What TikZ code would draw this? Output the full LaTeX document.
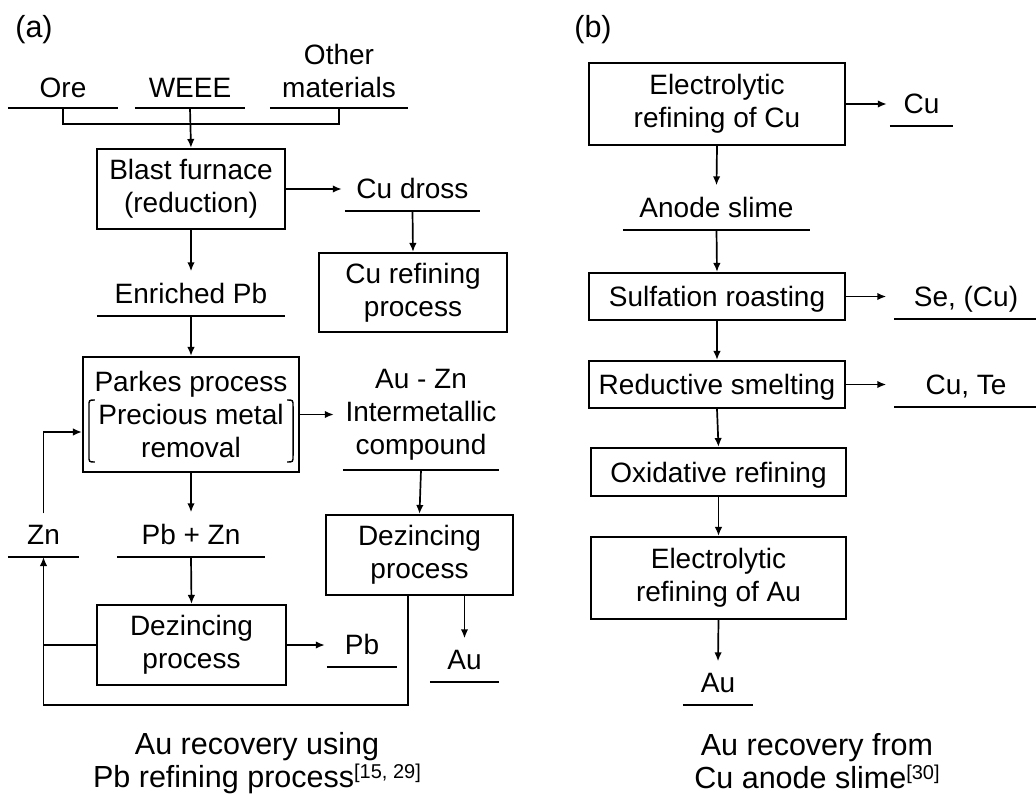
\documentclass[tikz,border=0pt]{standalone}
\usepackage{fontspec}
\setmainfont{Liberation Sans}
\usetikzlibrary{arrows.meta,calc}
\tikzset{
  every node/.style={font=\fontsize{28}{33}\selectfont},
  box/.style={draw, line width=2.1pt, align=center, inner sep=0pt},
  onebox/.style={box, text depth=0pt},
  ul/.style={anchor=south, inner xsep=0pt, inner ysep=12pt, text depth=0pt, align=center},
  uline/.style={line width=1.9pt},
  conn/.style={line width=1.7pt},
  arr/.style={line width=1.7pt, -{Latex[length=9pt,width=7.5pt]}},
  capt/.style={font=\fontsize{30.5}{33}\selectfont, align=center},
}
\begin{document}
\begin{tikzpicture}[x=1pt,y=-1pt]
\fill[white] (0,0) rectangle (1036,795);
\useasboundingbox (0,0) rectangle (1036,795);

% ---------------- (a) ----------------
\node[capt] (lbla) at (34,30) {(a)};
\node[ul, inner ysep=10pt, minimum width=110pt] (ore) at (63,108) {Ore};
\node[ul, inner ysep=10pt, minimum width=110pt] (weee) at (190,108) {WEEE};
\node[ul, inner ysep=10pt, minimum width=138pt] (oth) at (339,108) {Other\\materials};
\node[box, minimum width=188pt, minimum height=80pt] (blast) at (191,189) {Blast furnace\\(reduction)};
\node[ul, minimum width=135pt] (cud) at (412.5,211) {Cu dross};
\node[box, minimum width=188pt, minimum height=79pt] (curef) at (413,292.5) {Cu refining\\process};
\node[ul, minimum width=188pt] (enr) at (191,316) {Enriched Pb};
\node[box, minimum width=216pt, minimum height=115pt] (parkes) at (191,414.5) {Parkes process\\Precious metal\\removal};
\node[ul, inner ysep=15pt, minimum width=156pt] (auzn) at (421,470) {Au - Zn\\Intermetallic\\compound};
\node[ul, minimum width=71pt] (zn) at (43.5,557) {Zn};
\node[ul, minimum width=148pt] (pbzn) at (191,557) {Pb + Zn};
\node[box, minimum width=189pt, minimum height=80pt] (dez1) at (191.5,645) {Dezincing\\process};
\node[ul, minimum width=70pt] (pb) at (362,667) {Pb};
\node[box, minimum width=187pt, minimum height=80pt] (dez2) at (419.5,555) {Dezincing\\process};
\node[ul, minimum width=69pt] (au) at (464.5,682) {Au};
\coordinate (loopc) at (408,705);
\node[capt] (capa) at (257,763) {Au recovery using\\Pb refining process\raisebox{9pt}{\fontsize{20}{20}\selectfont[15, 29]}};

% underlines (a)
\foreach \n in {ore,weee,oth,cud,enr,auzn,zn,pbzn,pb,au}
  \draw[uline] (\n.south west) -- (\n.south east);

% brackets in Parkes box
\draw[conn, line width=1.4pt] ($(parkes.west)+(13,-14.5)$) .. controls ($(parkes.west)+(7,-14.5)$) .. ($(parkes.west)+(7,-8)$)
  -- ($(parkes.west)+(7,41)$) .. controls ($(parkes.west)+(7,47.5)$) .. ($(parkes.west)+(13,47.5)$);
\draw[conn, line width=1.4pt] ($(parkes.east)+(-13,-14.5)$) .. controls ($(parkes.east)+(-7,-14.5)$) .. ($(parkes.east)+(-7,-8)$)
  -- ($(parkes.east)+(-7,41)$) .. controls ($(parkes.east)+(-7,47.5)$) .. ($(parkes.east)+(-13,47.5)$);

% connectors (a)
\draw[conn] (ore.south) -- ++(0,16) -| (oth.south);
\draw[arr] (weee.south) -- (blast.north);
\draw[arr, shorten >=3pt] (blast.east) -- (blast.east -| cud.south west);
\draw[arr] (cud.south) -- (curef.north);
\draw[arr] (blast.south) -- (enr.north);
\draw[arr] (enr.south) -- (parkes.north);
\draw[arr, shorten >=9pt] (parkes.east) -- (parkes.east -| auzn.south west);
\draw[arr] (auzn.south) -- (dez2.north);
\draw[arr] (parkes.south) -- (pbzn.north);
\draw[arr] (pbzn.south) -- (dez1.north);
\draw[arr, shorten >=2pt] (dez1.east) -- (dez1.east -| pb.south west);
\draw[arr] (au.north |- dez2.south) -- (au.north);
\draw[arr] (dez2.south -| loopc) -- (loopc) -| (zn.south);
\draw[conn] (dez1.west) -- (dez1.west -| zn.south);
\draw[arr] (zn.north) |- ($(parkes.west)+(0,17.5)$);

% ---------------- (b) ----------------
\node[capt] (lblb) at (593,30) {(b)};
\node[box, minimum width=256pt, minimum height=82pt] (elcu) at (717,104) {Electrolytic\\refining of Cu};
\node[ul, minimum width=63pt] (cu) at (921.5,126) {Cu};
\node[ul, minimum width=187pt] (slime) at (716.5,230) {Anode slime};
\node[onebox, minimum width=256pt, minimum height=47pt] (sulf) at (717,296.5) {Sulfation roasting};
\node[ul, minimum width=143pt] (se) at (966,319) {Se, (Cu)};
\node[onebox, minimum width=256pt, minimum height=47pt] (red) at (717,384.5) {Reductive smelting};
\node[ul, minimum width=143pt] (cute) at (966,407) {Cu, Te};
\node[onebox, minimum width=255pt, minimum height=48pt] (oxi) at (718.5,472) {Oxidative refining};
\node[box, minimum width=255pt, minimum height=82pt] (elau) at (718.5,578) {Electrolytic\\refining of Au};
\node[ul, minimum width=70pt] (au2) at (718,705) {Au};
\node[capt] (capb) at (817,761) {Au recovery from\\Cu anode slime\raisebox{9pt}{\fontsize{20}{20}\selectfont[30]}};

\foreach \n in {cu,slime,se,cute,au2}
  \draw[uline] (\n.south west) -- (\n.south east);

\draw[arr, shorten >=3pt] (elcu.east) -- (elcu.east -| cu.south west);
\draw[arr] (elcu.south) -- (slime.north);
\draw[arr] (slime.south) -- (sulf.north);
\draw[arr, shorten >=8pt] (sulf.east) -- (sulf.east -| se.south west);
\draw[arr] (sulf.south) -- (red.north);
\draw[arr, shorten >=8pt] (red.east) -- (red.east -| cute.south west);
\draw[arr] (red.south) -- (oxi.north);
\draw[arr] (oxi.south) -- (elau.north);
\draw[arr] (elau.south) -- (au2.north);
\end{tikzpicture}
\end{document}
